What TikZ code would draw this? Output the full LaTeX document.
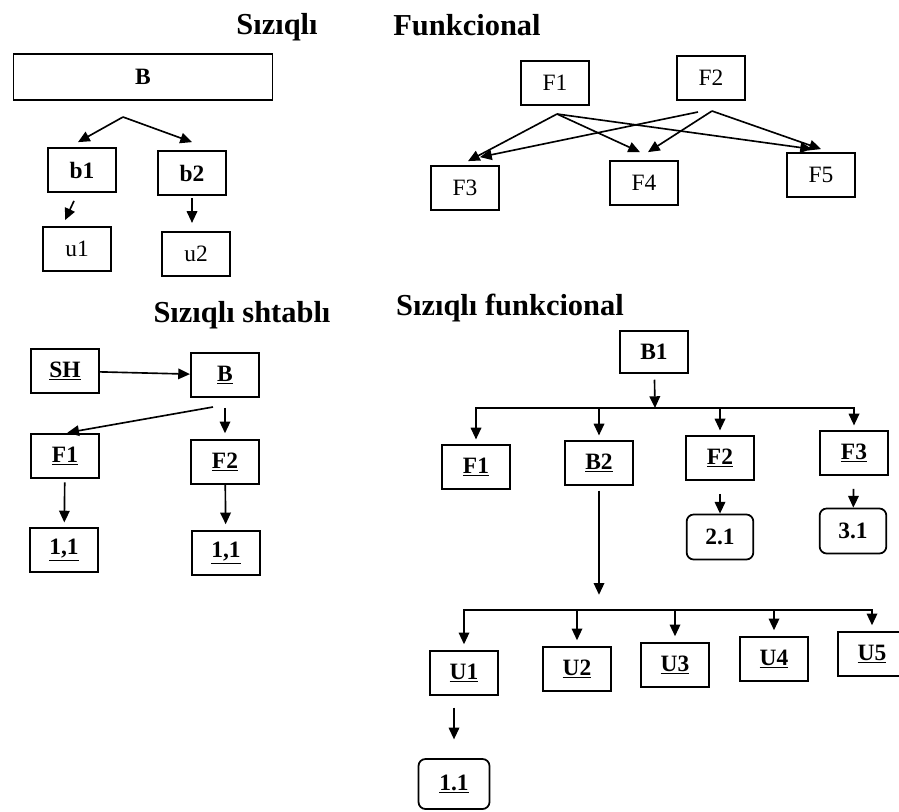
\documentclass[tikz,border=0pt]{standalone}
\usepackage{fontspec}
\setmainfont{Liberation Serif}
\usetikzlibrary{arrows.meta}
\tikzset{
  box/.style={draw, line width=1.5pt, minimum width=2.05cm, minimum height=1.32cm, inner sep=0pt, font=\fontsize{20}{22}\selectfont\bfseries},
  plainbox/.style={box, font=\fontsize{20}{22}\selectfont\mdseries},
  roundbox/.style={box, rounded corners=6pt},
  heading/.style={font=\fontsize{26}{30}\selectfont\bfseries},
}
\begin{document}
\begin{tikzpicture}[x=0.03cm, y=-0.03cm, line width=1.4pt, >={Triangle[length=10pt,width=9pt]}]
    \useasboundingbox (0,0) rectangle (899,811);

    % Sizigli
    \node[heading] (tLin) at (277,27) {Sızıqlı};
    \node[box, minimum width=7.77cm, minimum height=1.38cm] (B) at (143,77) {B};
    \node[box] (b1) at (82,170) {b1};
    \node[box] (b2) at (192,173) {b2};
    \node[plainbox] (u1) at (77,249) {u1};
    \node[plainbox] (u2) at (196,254) {u2};
    \coordinate (Bfork) at (123,117);

    \draw [->] (Bfork) -- ([xshift=-0.12cm,yshift=0.15cm]b1.north);
    \draw [->] (Bfork) -- ([yshift=0.24cm]b2.north);
    \draw [->] ([xshift=-0.24cm,yshift=-0.24cm]b1.south) -- ([xshift=-0.36cm,yshift=0.18cm]u1.north);
    \draw [->, shorten <=2pt, shorten >=7pt] (b2) -- (b2 |- u2.north);

    % Funkcional
    \node[heading] (tFunc) at (467,25) {Funkcional};
    \node[plainbox] (F1) at (555,83) {F1};
    \node[plainbox] (F2) at (711,78) {F2};
    \node[plainbox] (F3) at (465,188) {F3};
    \node[plainbox] (F4) at (644,183) {F4};
    \node[plainbox] (F5) at (821,175) {F5};
    \coordinate (F1out) at (557,114);
    \coordinate (F2outA) at (698,112);
    \coordinate (F2outB) at (712,111);

    \draw [->] (F1out) -- ([xshift=0.09cm,yshift=0.12cm]F3.north);
    \draw [->] (F1out) -- ([xshift=-0.12cm,yshift=0.24cm]F4.north);
    \draw [->] (F1out) -- ([xshift=-0.27cm,yshift=0.09cm]F5.north);
    \draw [->] (F2outA) -- ([xshift=0.45cm,yshift=0.24cm]F3.north);
    \draw [->] (F2outB) -- ([xshift=0.12cm,yshift=0.24cm]F4.north);
    \draw [->] (F2outB) -- ([yshift=0.09cm]F5.north);

    % Sizigli shtabli
    \node[heading] (tStaff) at (242,315) {Sızıqlı shtablı};
    \node[box] (SH) at (65,371) {\underline{SH}};
    \node[box] (Bs) at (225,375) {\underline{B}};
    \node[box] (sF1) at (65,456) {\underline{F1}};
    \node[box] (sF2) at (225,462) {\underline{F2}};
    \node[box] (s11) at (64,550) {\underline{1,1}};
    \node[box] (s12) at (226,553) {\underline{1,1}};
    \coordinate (Bsout) at (213,407);

    \draw [->] (SH) -- (Bs);
    \draw [->, shorten >=2pt] (Bsout) -- (sF1.north);
    \draw [->, shorten <=8.5pt, shorten >=5pt] (Bs) -- (sF2);
    \draw [->, shorten <=3pt, shorten >=4pt] (sF1) -- (s11);
    \draw [->, shorten >=5pt] (sF2) -- (s12);

    % Sizigli funkcional
    \node[heading] (tLinFunc) at (510,308) {Sızıqlı funkcional};
    \node[box, minimum height=1.26cm] (B1) at (654,352) {B1};
    \node[box] (fF1) at (476,467) {\underline{F1}};
    \node[box] (B2) at (599,463) {\underline{B2}};
    \node[box] (fF2) at (720,458) {\underline{F2}};
    \node[box] (fF3) at (854,453) {\underline{F3}};
    \node[roundbox, minimum width=2cm, minimum height=1.35cm] (r21) at (720,537) {2.1};
    \node[roundbox, minimum width=2cm, minimum height=1.35cm] (r31) at (853,531) {3.1};
    \node[box] (U1) at (464,673) {\underline{U1}};
    \node[box] (U2) at (577,669) {\underline{U2}};
    \node[box] (U3) at (675,665) {\underline{U3}};
    \node[box] (U4) at (774,659) {\underline{U4}};
    \node[box] (U5) at (872,654) {\underline{U5}};
    \node[roundbox, minimum width=2.13cm, minimum height=1.5cm] (r11) at (454,784) {\underline{1.1}};
    \coordinate (bus1) at (655,408);
    \coordinate (bus2) at (599,610);

    \draw [->, shorten <=5pt] (B1) -- (bus1);
    \draw [->, shorten >=4pt] (bus1) -| (fF1);
    \draw [->, shorten >=4pt] (bus1) -| (B2);
    \draw [->, shorten >=4pt] (bus1) -| (fF2);
    \draw [->, shorten >=4pt] (bus1) -| (fF3);
    \draw [->, shorten <=11pt] (fF2) -- (r21);
    \draw [->, shorten <=11pt] (fF3) -- (r31);

    \draw [->, shorten <=4pt, shorten >=13pt] (B2) -- (bus2);
    \draw [->, shorten >=5pt] (bus2) -| (U1);
    \draw [->, shorten >=5pt] (bus2) -| (U2);
    \draw [->, shorten >=5pt] (bus2) -| (U3);
    \draw [->, shorten >=5pt] (bus2) -| (U4);
    \draw [->, shorten >=5pt] (bus2) -| (U5);
    \draw [->, shorten <=10pt, shorten >=16pt] (r11 |- U1.south) -- (r11.north);
\end{tikzpicture}
\end{document}
